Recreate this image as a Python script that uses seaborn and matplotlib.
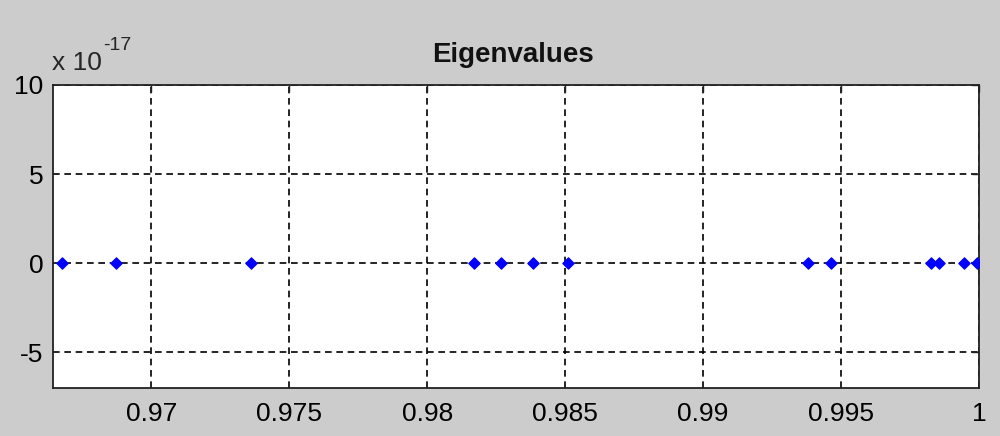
import numpy as np
import pandas as pd
import matplotlib
matplotlib.use('Agg')
import matplotlib.pyplot as plt
import seaborn as sns

# eigenvalues (real part, imaginary part in units of 1e-17)
real_part = [0.96675, 0.9687, 0.97361, 0.9817, 0.98267, 0.98383, 0.98509,
             0.99381, 0.99464, 0.99825, 0.99856, 0.99946, 0.99993]
imag_part = [0.0, 0.0, 0.0, 0.0, 0.0, 0.0, 0.0,
             0.0, 0.0, 0.0, 0.0, 0.0, 0.0]
x_ticks = [0.97, 0.975, 0.98, 0.985, 0.99, 0.995, 1.0]
x_tick_labels = ['0.97', '0.975', '0.98', '0.985', '0.99', '0.995', '1']
y_ticks = [-5, 0, 5, 10]
y_tick_labels = ['-5', '0', '5', '10']

df = pd.DataFrame({'Real': real_part, 'Imag': imag_part})

sns.set_style('white')
plt.rcParams['font.family'] = ['Liberation Sans', 'DejaVu Sans']

fig = plt.figure(figsize=(10, 4.36), dpi=100, facecolor='#cccccc')
ax = fig.add_axes([0.053, 1 - 388 / 436, 0.926, (388 - 85) / 436])
ax.set_facecolor('white')

sns.scatterplot(data=df, x='Real', y='Imag', ax=ax, marker='D', s=34,
                color='blue', edgecolor='blue', linewidth=0.8, zorder=3)

ax.set_xlim(0.96643, 1.0)
ax.set_ylim(-7, 10)
ax.set_xticks(x_ticks)
ax.set_xticklabels(x_tick_labels)
ax.set_yticks(y_ticks)
ax.set_yticklabels(y_tick_labels)
ax.tick_params(axis='both', labelsize=19, colors='#222222', labelcolor='black',
               direction='in', length=5, width=1, top=True, right=True)
ax.tick_params(axis='x', pad=10)
ax.tick_params(axis='y', pad=7)
ax.grid(True, color='black', linestyle=(0, (4, 2.8)), linewidth=1.2)
for sp in ax.spines.values():
    sp.set_color('#222222')
    sp.set_linewidth(1.3)

ax.set_xlabel('')
ax.set_ylabel('')
fig.text(0.5135, 1 - 62 / 436, 'Eigenvalues', fontsize=20, fontweight='bold',
         ha='center', va='baseline', color='#111111')
# MATLAB-style exponent label
fig.text(0.052, 1 - 70 / 436, 'x 10', fontsize=19, va='baseline', ha='left')
fig.text(0.103, 1 - 50 / 436, '-17', fontsize=14, va='baseline', ha='left')

fig.savefig('out.png', dpi=100, facecolor=fig.get_facecolor())
